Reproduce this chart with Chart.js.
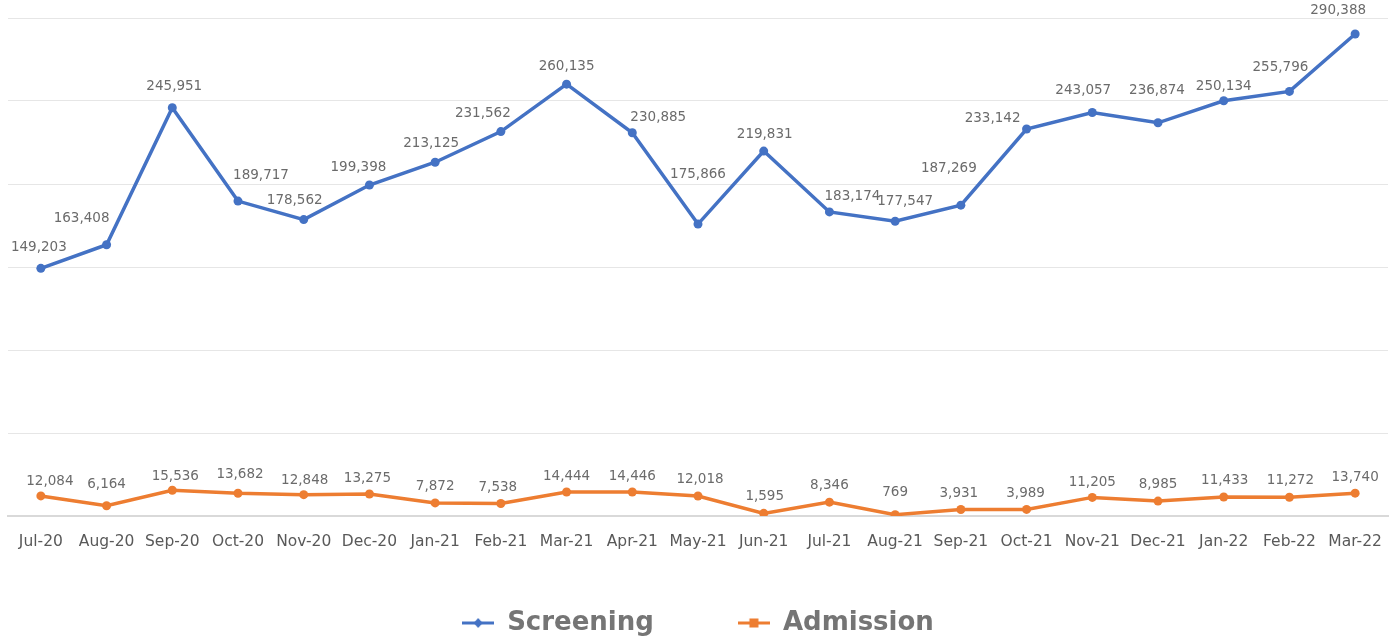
<!DOCTYPE html>
<html>
<head>
<meta charset="utf-8">
<script src="https://cdn.jsdelivr.net/npm/chart.js@4.4.1/dist/chart.umd.min.js"></script>
<style>
    html, body { margin: 0; padding: 0; background: #fff; }
    #wrap { width: 1394px; height: 639px; position: relative; }
</style>
</head>
<body>
<div id="wrap"><canvas id="trendChart"></canvas></div>
<script>
// Chart data
const months = ['Jul-20', 'Aug-20', 'Sep-20', 'Oct-20', 'Nov-20', 'Dec-20', 'Jan-21', 'Feb-21', 'Mar-21', 'Apr-21', 'May-21',
    'Jun-21', 'Jul-21', 'Aug-21', 'Sep-21', 'Oct-21', 'Nov-21', 'Dec-21', 'Jan-22', 'Feb-22', 'Mar-22'];
const screening = [149203, 163408, 245951, 189717, 178562, 199398, 213125, 231562, 260135, 230885, 175866,
    219831, 183174, 177547, 187269, 233142, 243057, 236874, 250134, 255796, 290388];
const admission = [12084, 6164, 15536, 13682, 12848, 13275, 7872, 7538, 14444, 14446, 12018,
    1595, 8346, 769, 3931, 3989, 11205, 8985, 11433, 11272, 13740];

// Label nudges (px) so value labels sit where the original placed them
const screenDx = [-2, -25, 2, 23, -9, -11, -4, -18, 0, 26, 0, 1, 23, 10, -12, -34, -9, -1, 0, -9, -17];
const screenDy = [-21, -26, -21, -26, -19, -17, -19, -18, -18, -15, -50, -17, -15, -20, -37, -10, -22, -32, -14, -24, -23];
const admitDx = [9, 0, 3, 2, 1, -2, 0, -3, 0, 0, 2, 1, 0, 0, -2, -1, 0, 0, 1, 1, 0];
const admitDy = [-14, -21, -14, -19, -14, -15, -16, -16, -16, -16, -17, -17, -17, -22, -16, -16, -15, -17, -17, -17, -16];

const BLUE = '#4472C4';
const ORANGE = '#ED7D31';

function legendMarker(color, shape) {
    const c = document.createElement('canvas');
    c.width = 32;
    c.height = 12;
    const g = c.getContext('2d');
    g.strokeStyle = color;
    g.lineWidth = 3;
    g.beginPath();
    g.moveTo(0, 6);
    g.lineTo(32, 6);
    g.stroke();
    g.fillStyle = color;
    if (shape === 'diamond') {
        g.beginPath();
        g.moveTo(16, 1);
        g.lineTo(20.5, 6);
        g.lineTo(16, 11);
        g.lineTo(11.5, 6);
        g.closePath();
        g.fill();
    } else {
        g.fillRect(11.5, 1.5, 9, 9);
    }
    return c;
}

const valueLabels = {
    id: 'valueLabels',
    afterDatasetsDraw(chart) {
        const ctx = chart.ctx;
        ctx.save();
        ctx.font = '13.5px "DejaVu Sans"';
        ctx.fillStyle = '#6b6b6b';
        ctx.textAlign = 'center';
        ctx.textBaseline = 'middle';
        const nudges = [[screenDx, screenDy], [admitDx, admitDy]];
        chart.data.datasets.forEach((ds, i) => {
            const meta = chart.getDatasetMeta(i);
            meta.data.forEach((pt, j) => {
                const txt = ds.data[j].toLocaleString('en-US');
                ctx.fillText(txt, pt.x + nudges[i][0][j], pt.y + nudges[i][1][j]);
            });
        });
        ctx.restore();
    }
};

const ctx = document.getElementById('trendChart').getContext('2d');
new Chart(ctx, {
    type: 'line',
    data: {
        labels: months,
        datasets: [
            {
                label: 'Screening',
                data: screening,
                borderColor: BLUE,
                backgroundColor: BLUE,
                borderWidth: 3.5,
                pointRadius: 4.5,
                pointBackgroundColor: BLUE,
                pointBorderWidth: 0,
                pointStyle: 'circle',
                tension: 0
            },
            {
                label: 'Admission',
                data: admission,
                borderColor: ORANGE,
                backgroundColor: ORANGE,
                borderWidth: 3.5,
                pointRadius: 4.5,
                pointBackgroundColor: ORANGE,
                pointBorderWidth: 0,
                pointStyle: 'circle',
                tension: 0
            }
        ]
    },
    options: {
        responsive: true,
        maintainAspectRatio: false,
        animation: false,
        layout: { padding: { left: 8, right: 6, top: 18, bottom: 0 } },
        scales: {
            x: {
                offset: true,
                grid: { display: false, drawTicks: false },
                border: { display: true, color: '#d9d9d9', width: 2 },
                ticks: {
                    color: '#595959',
                    font: { family: 'DejaVu Sans', size: 15.5 },
                    // mirrored with negative padding: labels sit below the axis, not clipped
                    mirror: true,
                    padding: -35,
                    maxRotation: 0,
                    autoSkip: false
                },
                afterFit: scale => { scale.height = 10; }
            },
            y: {
                min: 0,
                max: 300000,
                ticks: { display: false, stepSize: 50000 },
                grid: { color: '#e6e6e6', lineWidth: 1, drawTicks: false },
                border: { display: false }
            }
        },
        plugins: {
            legend: {
                position: 'bottom',
                maxHeight: 113,
                labels: {
                    usePointStyle: true,
                    pointStyleWidth: 32,
                    padding: 84,
                    color: '#757575',
                    font: { family: 'DejaVu Sans', size: 26, weight: 'bold' },
                    generateLabels: chart => chart.data.datasets.map((ds, i) => ({
                        text: ds.label,
                        fillStyle: ds.borderColor,
                        strokeStyle: ds.borderColor,
                        lineWidth: 0,
                        pointStyle: legendMarker(ds.borderColor, i === 0 ? 'diamond' : 'square'),
                        hidden: false,
                        datasetIndex: i,
                        fontColor: '#757575'
                    }))
                }
            },
            tooltip: { enabled: false }
        }
    },
    plugins: [valueLabels]
});
</script>
</body>
</html>
